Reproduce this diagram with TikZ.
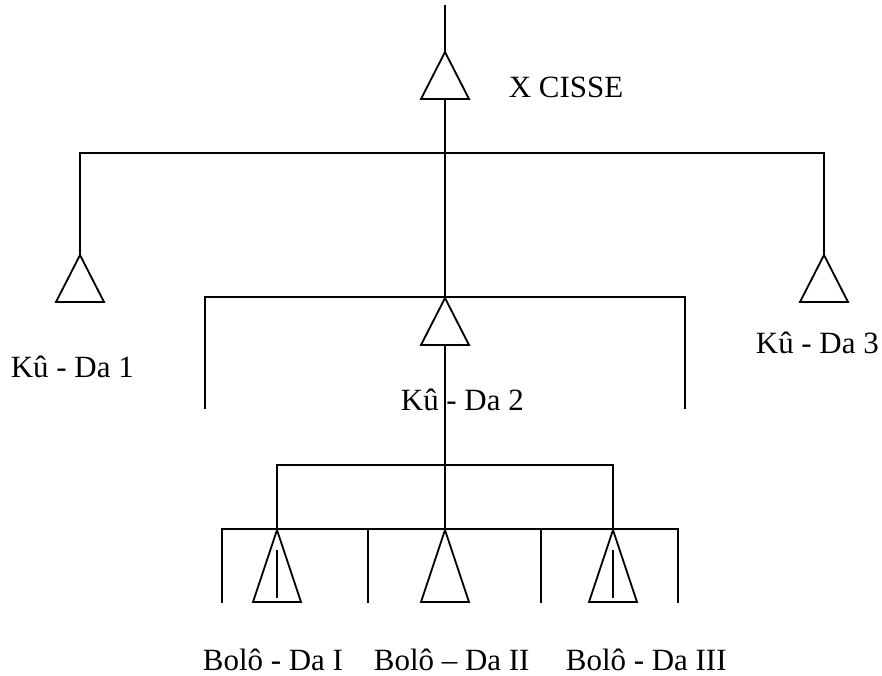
\documentclass[tikz,border=0pt]{standalone}
\usepackage{fontspec}
\setmainfont{Liberation Serif}
\usetikzlibrary{shapes.geometric,positioning}
\tikzset{%
    every node/.style={font=\fontsize{22}{26}\selectfont},
    tri/.style={draw,isosceles triangle,shape border rotate=90,isosceles triangle stretches,
        inner sep=0pt,outer sep=0pt,minimum width=1.2cm,minimum height=1.175cm,anchor=apex},
    tall/.style={minimum height=1.8cm},
    lbl/.style={anchor=base west,inner sep=0pt},
    h2d/.style={shift={(0,112)}},
    h4d/.style={shift={(0,74)}},
    in2s/.style={shift={(0,20)}},
    in2n/.style={shift={(0,-4)}}
}

\begin{document}
\begin{tikzpicture}[x=0.025cm,y=-0.025cm,line width=1.3pt]
            \useasboundingbox (0,0) rectangle (882,676);
            \node [tri] (t-0) at (445,52) {};
            \node [tri] (t-1) at (80,255) {};
            \node [tri] (t-2) at (445,298) {};
            \node [tri] (t-3) at (824,255) {};
            \node [tri,tall] (t-4) at (277,530) {};
            \node [tri,tall] (t-5) at (445,530) {};
            \node [tri,tall] (t-6) at (613,530) {};
            \coordinate (top) at (445,5);
            \coordinate (h1-l) at (80,153);
            \coordinate (h1-r) at (824,153);
            \coordinate (h2-l) at (205,297);
            \coordinate (h2-r) at (685,297);
            \coordinate (h3-l) at (277,465);
            \coordinate (h3-r) at (613,465);
            \coordinate (h4-l) at (222,529);
            \coordinate (h4-a) at (368,529);
            \coordinate (h4-b) at (541,529);
            \coordinate (h4-r) at (678,529);
            %%%%%
            \node [lbl] (n-0) at (508,98) {X CISSE};
            \node [lbl] (n-1) at (10,377) {Kû - Da 1};
            \node [lbl] (n-2) at (400,410) {Kû - Da 2};
            \node [lbl] (n-3) at (755,353) {Kû - Da 3};
            \node [lbl] (n-4) at (202,670) {Bolô - Da I};
            \node [lbl] (n-5) at (373,670) {Bolô – Da II};
            \node [lbl] (n-6) at (565,670) {Bolô - Da III};
            %%%%%
            \draw (top) -- (t-0.apex);
            \draw (t-0.lower side) -- (t-2.apex);
            \draw (t-1.apex) -- (h1-l) -- (h1-r) -- (t-3.apex);
            \draw ([h2d]h2-l) -- (h2-l) -- (h2-r) -- ([h2d]h2-r);
            \draw (t-2.lower side) -- (t-5.apex);
            \draw (t-4.apex) -- (h3-l) -- (h3-r) -- (t-6.apex);
            \draw ([h4d]h4-l) -- (h4-l) -- (h4-r) -- ([h4d]h4-r);
            \draw (h4-a) -- ([h4d]h4-a);
            \draw (h4-b) -- ([h4d]h4-b);
            \draw ([in2s]t-4.apex) -- ([in2n]t-4.lower side);
            \draw ([in2s]t-6.apex) -- ([in2n]t-6.lower side);
\end{tikzpicture}
\end{document}
